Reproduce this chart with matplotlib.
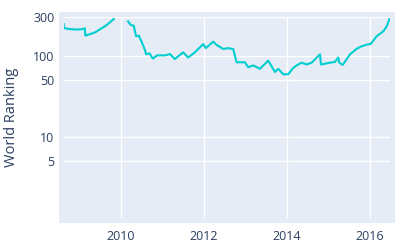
import numpy as np
import matplotlib
matplotlib.use("Agg")
import matplotlib.pyplot as plt
from matplotlib.patches import Rectangle

years = [2008.627, 2008.634, 2008.771, 2008.940, 2009.108, 2009.133, 2009.149, 2009.270,
         2009.390, 2009.511, 2009.663, 2009.831, 2010.000,
         2010.176, 2010.234, 2010.313, 2010.369, 2010.434, 2010.513, 2010.578, 2010.610,
         2010.692, 2010.771, 2010.875, 2011.077, 2011.181, 2011.301, 2011.501, 2011.622,
         2011.783, 2011.983, 2012.048, 2012.224, 2012.306, 2012.465, 2012.586, 2012.706,
         2012.788, 2012.988, 2013.067, 2013.188, 2013.349, 2013.549, 2013.711, 2013.790,
         2013.911, 2014.031, 2014.152, 2014.272, 2014.354, 2014.475, 2014.595, 2014.716,
         2014.795, 2014.819, 2015.036, 2015.157, 2015.236, 2015.260, 2015.342, 2015.518,
         2015.680, 2015.800, 2015.920, 2016.017, 2016.161, 2016.320, 2016.402, 2016.465]
ranking = [245, 219, 213, 210, 213, 219, 177, 185,
           195, 213, 239, 283, np.nan,
           265, 241, 234, 174, 177, 144, 119, 104,
           107, 92, 101, 101, 105, 91, 110, 95,
           110, 139, 124, 149, 136, 121, 124, 121,
           83, 83, 72, 76, 69, 87, 63, 69,
           59, 59, 71, 78, 82, 78, 82, 95,
           104, 78, 82, 84, 95, 82, 77, 104,
           122, 131, 137, 140, 174, 200, 230, 283]

y_ticks = [5, 10, 50, 100, 300]
x_ticks = [2010, 2012, 2014, 2016]

W, H = 400, 250
plt.rcParams['font.family'] = ['Open Sans', 'DejaVu Sans']
fig = plt.figure(figsize=(4, 2.5), dpi=100)

# background panel (slightly larger than data area, plotly style)
bx0, by0, bx1, by1 = 59, 12, 395, 223
bg = Rectangle((bx0 / W, 1 - by1 / H), (bx1 - bx0) / W, (by1 - by0) / H,
               transform=fig.transFigure, facecolor='#E5ECF6',
               edgecolor='none', zorder=-10)
fig.add_artist(bg)
ax0, ay0, ax1, ay1 = 64, 17, 390, 218
ax = fig.add_axes([ax0 / W, 1 - ay1 / H, (ax1 - ax0) / W, (ay1 - ay0) / H])
ax.set_zorder(5)
ax.patch.set_alpha(0)
ax.plot(years, ranking, color='#00CED1', lw=1.5, zorder=3)
ax.set_yscale('log')
ax.set_ylim(1, 295)
ax.set_xlim(2008.634, 2016.48)
ax.set_yticks(y_ticks)
ax.set_yticklabels([str(t) for t in y_ticks])
ax.yaxis.set_minor_locator(matplotlib.ticker.NullLocator())
ax.set_xticks(x_ticks)
ax.set_xticklabels([str(t) for t in x_ticks])
ax.grid(True, color='white', lw=1)
for s in ax.spines.values():
    s.set_visible(False)
ax.tick_params(length=0, labelsize=9, colors='#2a3f5f', pad=7)
ax.tick_params(axis='x', pad=9)
ax.set_ylabel('World Ranking', fontsize=10.5, color='#2a3f5f', labelpad=10)
ax.set_axisbelow(True)
fig.savefig('out.png', dpi=100)
